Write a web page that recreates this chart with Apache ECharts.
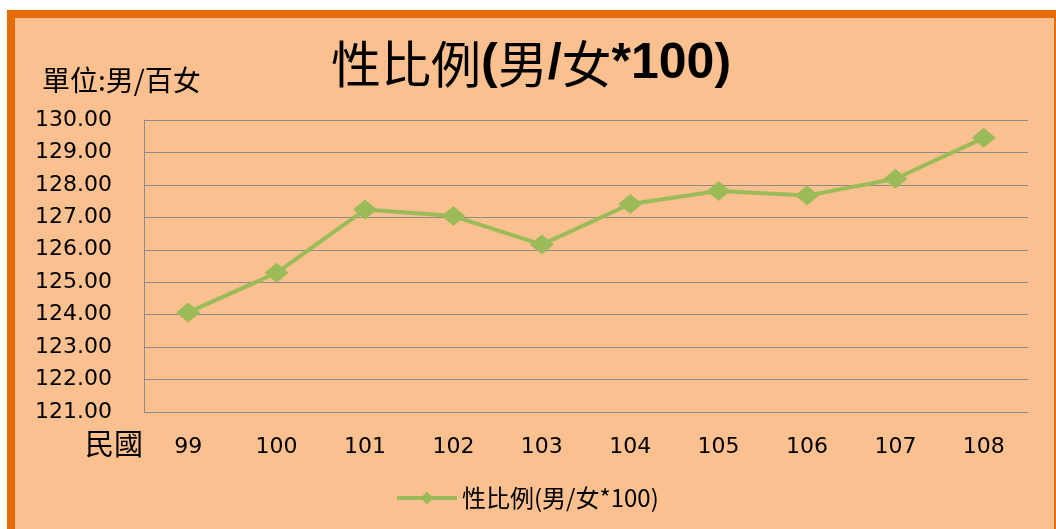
<!DOCTYPE html>
<html>
<head>
<meta charset="utf-8">
<script src="https://cdn.jsdelivr.net/npm/echarts@6/dist/echarts.min.js"></script>
<style>
  html, body { margin: 0; padding: 0; background: #fff; overflow: hidden; }
  #frame {
    position: absolute; left: 7px; top: 10px; width: 1055px; height: 540px;
    box-sizing: border-box; border: 8px solid #E46C0A; background: #FAC090;
  }
  #chart { position: absolute; left: 0; top: 0; width: 1056px; height: 529px; }
</style>
</head>
<body>
<div id="frame"></div>
<div id="chart"></div>
<script>
// 民國年
const years = ['99', '100', '101', '102', '103', '104', '105', '106', '107', '108']
// 性比例 (男/女*100)
const sexRatio = [124.07, 125.29, 127.24, 127.04, 126.16, 127.41, 127.81, 127.67, 128.19, 129.45]
const seriesName = '性比例(男/女*100)'

const chart = echarts.init(document.getElementById('chart'))

const cjk = '"Noto Sans CJK TC", "Noto Sans CJK SC", sans-serif'
const latin = '"DejaVu Sans", sans-serif'
const gridGray = '#8c8c8c'

const option = {
  backgroundColor: 'transparent',
  title: {
    text: '{c|性比例}{b|(}{c|男}{b|/}{c|女}{b|*100)}',
    left: 326,
    top: 34,
    textStyle: {
      rich: {
        c: { fontFamily: cjk, fontSize: 50, color: '#000', fontWeight: 'normal' },
        b: { fontFamily: '"Liberation Sans", Arial, sans-serif', fontSize: 50, color: '#000', fontWeight: 'bold' },
      },
    },
  },
  legend: {
    data: [seriesName],
    left: 390,
    top: 481,
    itemWidth: 60,
    itemHeight: 16,
    itemGap: 6,
    lineStyle: { width: 4 },
    textStyle: { fontFamily: cjk, fontSize: 24, color: '#000' },
  },
  grid: {
    left: 144,
    right: 28,
    top: 120,
    bottom: 117,
    containLabel: false,
  },
  graphic: [
    {
      type: 'text',
      left: 42,
      top: 66,
      style: { text: '單位:男/百女', font: '28px ' + cjk, fill: '#000' },
    },
    {
      type: 'text',
      left: 85,
      top: 429,
      style: { text: '民國', font: '29px ' + cjk, fill: '#000' },
    },
  ],
  xAxis: {
    type: 'category',
    data: years,
    boundaryGap: true,
    axisLine: { show: false },
    axisTick: { show: false },
    axisLabel: { color: '#000', fontFamily: latin, fontSize: 22, margin: 24 },
  },
  yAxis: {
    type: 'value',
    min: 121,
    max: 130,
    interval: 1,
    axisLine: { show: true, lineStyle: { color: gridGray, width: 1 } },
    axisTick: { show: false },
    axisLabel: {
      color: '#000',
      fontFamily: latin,
      fontSize: 22,
      margin: 32,
      formatter: (v) => v.toFixed(2),
    },
    splitLine: { lineStyle: { color: gridGray, width: 1 } },
  },
  series: [
    {
      name: seriesName,
      type: 'line',
      data: sexRatio,
      symbol: 'diamond',
      symbolSize: [24, 20],
      lineStyle: { color: '#9BBB59', width: 4 },
      itemStyle: { color: '#9BBB59' },
      animation: false,
    },
  ],
}

chart.setOption(option)
window.addEventListener('resize', () => chart.resize())
</script>
</body>
</html>
